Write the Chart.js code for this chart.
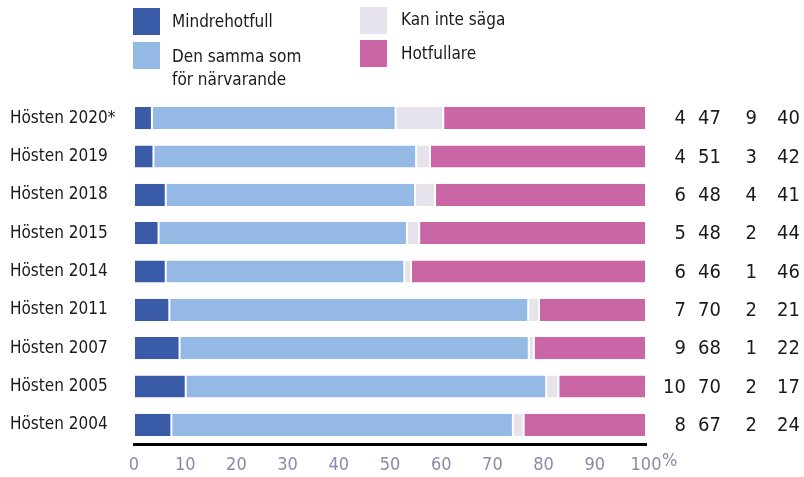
<!DOCTYPE html>
<html>
<head>
<meta charset="utf-8">
<script src="https://cdn.jsdelivr.net/npm/chart.js@4"></script>
<style>
  body { margin: 0; background: #fff; }
  #wrap { position: relative; width: 804px; height: 477px; }
  .lg { position: absolute; font-family: "DejaVu Sans Condensed", "Liberation Sans Narrow", sans-serif; font-size: 17px; color: #1a1a1a; line-height: 23px; }
  .sw { position: absolute; width: 27px; height: 27px; }
</style>
</head>
<body>
<div id="wrap">
  <canvas id="chart" width="804" height="477"></canvas>
  <div class="sw" style="left:133px;top:8px;background:#3a5ba8"></div>
  <div class="lg" style="left:172px;top:10px">Mindrehotfull</div>
  <div class="sw" style="left:133px;top:42px;background:#93b9e4"></div>
  <div class="lg" style="left:172px;top:45px">Den samma som<br>för närvarande</div>
  <div class="sw" style="left:360px;top:7px;background:#e6e3ec"></div>
  <div class="lg" style="left:401px;top:8px">Kan inte säga</div>
  <div class="sw" style="left:360px;top:40px;background:#cb66a6"></div>
  <div class="lg" style="left:401px;top:42px">Hotfullare</div>
</div>
<script>
// categories, top to bottom
const categories = ["Hösten 2020*", "Hösten 2019", "Hösten 2018", "Hösten 2015", "Hösten 2014", "Hösten 2011", "Hösten 2007", "Hösten 2005", "Hösten 2004"];

// bar segment lengths, as measured off the bars (unrounded)
const mindreHotfull = [3.5, 3.8, 6.2, 4.8, 6.2, 6.9, 8.9, 10.1, 7.3];
const sammaSom = [47.6, 51.3, 48.7, 48.5, 46.6, 70.1, 68.2, 70.4, 66.7];
const kanInteSaga = [9.3, 2.7, 3.9, 2.4, 1.3, 2.1, 1.0, 2.4, 2.1];
const hotfullare = [39.6, 42.2, 41.2, 44.3, 45.9, 20.9, 21.9, 17.1, 23.9];

// printed values in the columns on the right
const labelMindre = [4, 4, 6, 5, 6, 7, 9, 10, 8];
const labelSamma = [47, 51, 48, 48, 46, 70, 68, 70, 67];
const labelKanInte = [9, 3, 4, 2, 1, 2, 1, 2, 2];
const labelHotfullare = [40, 42, 41, 44, 46, 21, 22, 17, 24];

const xTicks = [0, 10, 20, 30, 40, 50, 60, 70, 80, 90, 100];

const fontFam = '"DejaVu Sans Condensed", "Liberation Sans Narrow", sans-serif';
const colors = ["#3a5ba8", "#93b9e4", "#e6e3ec", "#cb66a6"];
const seriesNames = ["Mindrehotfull", "Den samma som för närvarande", "Kan inte säga", "Hotfullare"];
const allSeries = [mindreHotfull, sammaSom, kanInteSaga, hotfullare];
const allLabels = [labelMindre, labelSamma, labelKanInte, labelHotfullare];

// value columns at the right + the % sign
const valueColumns = {
    id: "valueColumns",
    afterDraw(chart) {
        const ctx = chart.ctx;
        const yScale = chart.scales.y;
        const xScale = chart.scales.x;
        const colRight = [686, 721, 757, 800];
        ctx.save();
        ctx.font = "20px " + fontFam;
        ctx.fillStyle = "#1a1a1a";
        ctx.textAlign = "right";
        ctx.textBaseline = "middle";
        categories.forEach((c, i) => {
            const y = yScale.getPixelForValue(i);
            allLabels.forEach((s, k) => {
                ctx.fillText(String(s[i]), colRight[k], y + 1);
            });
        });
        ctx.font = "18px " + fontFam;
        ctx.fillStyle = "#8e87a8";
        ctx.textAlign = "left";
        ctx.fillText("%", xScale.right + 16, xScale.top + 17);
        ctx.restore();
    }
};

new Chart(document.getElementById("chart"), {
    type: "bar",
    data: {
        labels: categories,
        datasets: allSeries.map((s, k) => ({
            label: seriesNames[k],
            data: s,
            backgroundColor: colors[k],
            borderColor: "#ffffff",
            borderWidth: { left: 1, right: 1, top: 0, bottom: 0 },
            borderSkipped: false,
            barPercentage: 0.58,
            categoryPercentage: 1.0
        }))
    },
    options: {
        indexAxis: "y",
        responsive: false,
        animation: false,
        layout: { padding: { left: 10, right: 158, top: 99, bottom: 0 } },
        plugins: { legend: { display: false }, tooltip: { enabled: false } },
        scales: {
            x: {
                stacked: true,
                min: 0,
                max: 100,
                afterBuildTicks: (axis) => { axis.ticks = xTicks.map(v => ({ value: v })); },
                afterFit: (axis) => { axis.height = 33; },
                grid: { display: false },
                border: { display: true, color: "#000000", width: 3 },
                ticks: { color: "#8e87a8", font: { family: fontFam, size: 18 }, padding: 3, maxRotation: 0 }
            },
            y: {
                stacked: true,
                grid: { display: false },
                border: { display: false },
                afterFit: (axis) => { axis.width = 124; },
                ticks: { color: "#1a1a1a", crossAlign: "far", font: { family: fontFam, size: 17 } }
            }
        }
    },
    plugins: [valueColumns]
});
</script>
</body>
</html>
